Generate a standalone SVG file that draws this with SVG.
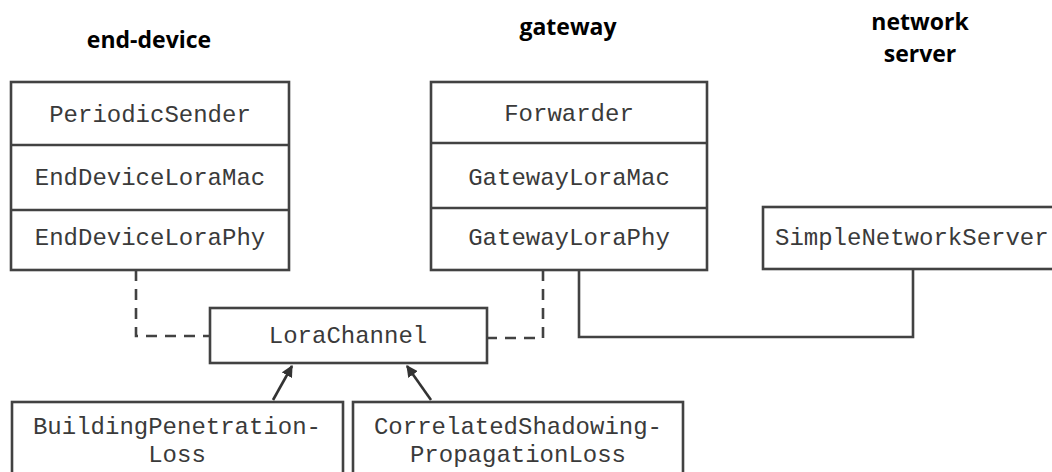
<svg xmlns="http://www.w3.org/2000/svg" width="1052" height="472" viewBox="0 0 1052 472">
  <style>
    .box { fill: #ffffff; stroke: #424242; stroke-width: 2.6; }
    .sep { stroke: #424242; stroke-width: 2.6; }
    .cls { font-family: "Liberation Mono", "Courier New", monospace; font-size: 24px; fill: #3a3a3a; text-anchor: middle; }
    .title { font-family: "Open Sans", "Liberation Sans", sans-serif; font-weight: bold; font-size: 23px; fill: #000000; text-anchor: middle; }
    .solid { fill: none; stroke: #424242; stroke-width: 2.6; }
    .dashed { fill: none; stroke: #424242; stroke-width: 2.6; stroke-dasharray: 11 8; }
    .arrow { fill: none; stroke: #333333; stroke-width: 2.6; }
  </style>
  <defs>
    <marker id="head" viewBox="0 0 10 10" refX="9" refY="5" markerWidth="4.5" markerHeight="4.5" orient="auto" markerUnits="strokeWidth">
      <path d="M0,0 L10,5 L0,10 Z" fill="#333333"/>
    </marker>
  </defs>
  <rect width="1052" height="472" fill="#ffffff"/>

  <!-- column headings -->
  <g id="titles">
    <text class="title" x="149" y="48">end-device</text>
    <text class="title" x="568" y="35">gateway</text>
    <text class="title" x="920" y="30">network</text>
    <text class="title" x="920" y="62">server</text>
  </g>

  <!-- connectors -->
  <g id="connectors">
    <path class="dashed" d="M136,270 V336 H210"/>
    <path class="dashed" d="M543,270 V338 H487"/>
    <path class="solid" d="M579,270 V337 H913 V270"/>
    <line class="arrow" x1="273" y1="400" x2="292" y2="366" marker-end="url(#head)"/>
    <line class="arrow" x1="431" y1="400" x2="407" y2="366" marker-end="url(#head)"/>
  </g>

  <!-- end-device protocol stack -->
  <g id="end-device">
    <rect class="box" x="11" y="82" width="278" height="188"/>
    <line class="sep" x1="11" y1="145" x2="289" y2="145"/>
    <line class="sep" x1="11" y1="210" x2="289" y2="210"/>
    <text class="cls" x="150" y="122">PeriodicSender</text>
    <text class="cls" x="150" y="185">EndDeviceLoraMac</text>
    <text class="cls" x="150" y="245">EndDeviceLoraPhy</text>
  </g>

  <!-- gateway protocol stack -->
  <g id="gateway">
    <rect class="box" x="431" y="82" width="276" height="188"/>
    <line class="sep" x1="431" y1="143" x2="707" y2="143"/>
    <line class="sep" x1="431" y1="208" x2="707" y2="208"/>
    <text class="cls" x="569" y="121">Forwarder</text>
    <text class="cls" x="569" y="185">GatewayLoraMac</text>
    <text class="cls" x="569" y="245">GatewayLoraPhy</text>
  </g>

  <!-- network server -->
  <g id="network-server">
    <rect class="box" x="763" y="207" width="300" height="62"/>
    <text class="cls" x="775" y="245" style="text-anchor: start">SimpleNetworkServer</text>
  </g>

  <!-- channel -->
  <g id="lora-channel">
    <rect class="box" x="210" y="308" width="277" height="55"/>
    <text class="cls" x="348" y="343">LoraChannel</text>
  </g>

  <!-- loss models -->
  <g id="building-penetration-loss">
    <rect class="box" x="12" y="402" width="331" height="80"/>
    <text class="cls" x="177" y="434">BuildingPenetration-</text>
    <text class="cls" x="177" y="462">Loss</text>
  </g>
  <g id="correlated-shadowing-propagation-loss">
    <rect class="box" x="353" y="402" width="330" height="80"/>
    <text class="cls" x="518" y="434">CorrelatedShadowing-</text>
    <text class="cls" x="518" y="462">PropagationLoss</text>
  </g>
</svg>
